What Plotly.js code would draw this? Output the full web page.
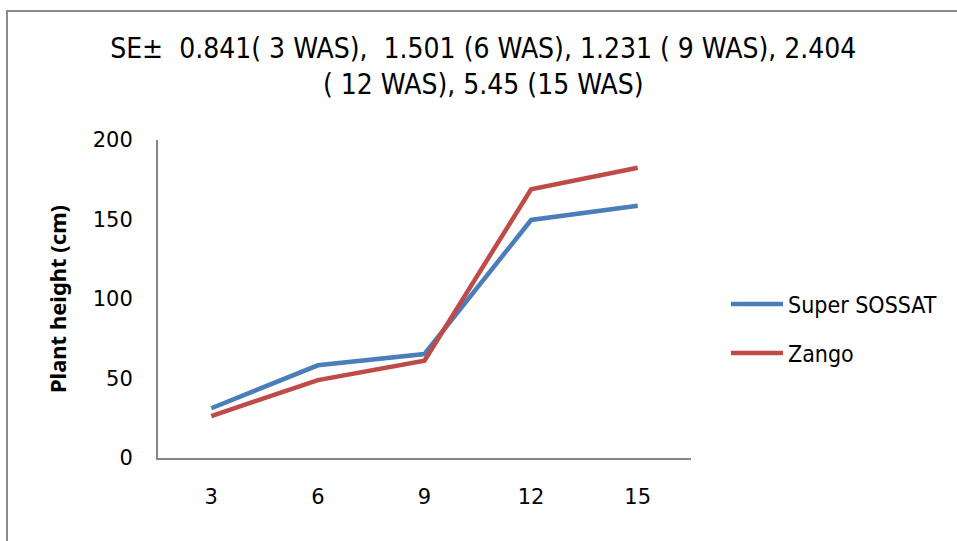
<!DOCTYPE html>
<html>
<head>
<meta charset="utf-8">
<script src="https://cdn.plot.ly/plotly-3.0.1.min.js"></script>
<style>
  body { margin: 0; background: #fff; }
  #frame { position: absolute; left: 6px; top: 10px; width: 1000px; height: 600px; border: 2px solid #8c8c8c; box-sizing: border-box; }
  #chart { position: absolute; left: 0; top: 0; width: 957px; height: 541px; }
</style>
</head>
<body>
<div id="frame"></div>
<div id="chart"></div>
<script>
const categories = ["3", "6", "9", "12", "15"];
const superSossat = [31.3, 58.3, 65.4, 149.7, 158.7];
const zango = [26.4, 49.0, 61.2, 169.0, 182.6];
const seriesNames = ["Super SOSSAT", "Zango"];
const titleText = "SE±  0.841( 3 WAS),  1.501 (6 WAS), 1.231 ( 9 WAS), 2.404<br>( 12 WAS), 5.45 (15 WAS)";
const yTitle = "<b>Plant height (cm)</b>";

const COND = '"DejaVu Sans Condensed", "Liberation Sans Narrow", "Liberation Sans", sans-serif';
const TICK = '"DejaVu Sans", "Liberation Sans", sans-serif';
const YT = '"Noto Sans", "Open Sans", sans-serif';

const traces = [
  { x: categories, y: superSossat, name: seriesNames[0], type: "scatter", mode: "lines",
    line: { color: "#4a7ebb", width: 4.5 }, legend: "legend" },
  { x: categories, y: zango, name: seriesNames[1], type: "scatter", mode: "lines",
    line: { color: "#be4b48", width: 4.5 }, legend: "legend2" }
];

const legendCommon = { font: { family: COND, size: 23, color: "#000" }, bgcolor: "rgba(0,0,0,0)",
  xref: "container", yref: "container", xanchor: "left", yanchor: "middle", itemwidth: 52 };

const layout = {
  width: 957, height: 541,
  paper_bgcolor: "rgba(0,0,0,0)", plot_bgcolor: "rgba(0,0,0,0)",
  margin: { l: 158, r: 266, t: 140, b: 83 },
  font: { family: TICK, size: 21, color: "#000" },
  title: { text: titleText, font: { family: COND, size: 28, color: "#000" },
    xref: "container", yref: "container", x: 0.505, xanchor: "center", y: 1 - 58/541, yanchor: "top" },
  xaxis: { type: "category", range: [-0.5, 4.5], showgrid: false, zeroline: false,
    showline: true, linecolor: "#868686", linewidth: 2,
    ticks: "outside", ticklen: 19, tickcolor: "rgba(0,0,0,0)",
    tickfont: { family: TICK, size: 21, color: "#000" } },
  yaxis: { range: [0, 200], dtick: 50, showgrid: false, zeroline: false,
    showline: true, linecolor: "#868686", linewidth: 2,
    ticks: "outside", ticklen: 19, tickcolor: "rgba(0,0,0,0)",
    tickfont: { family: TICK, size: 21, color: "#000" },
    title: { text: yTitle, font: { family: YT, size: 22, color: "#000" }, standoff: 20 } },
  legend: Object.assign({}, legendCommon, { x: 726/957, y: 1 - 304/541 }),
  legend2: Object.assign({}, legendCommon, { x: 726/957, y: 1 - 353/541 }),
  showlegend: true
};

Plotly.newPlot("chart", traces, layout, { displayModeBar: false, staticPlot: true });
</script>
</body>
</html>
